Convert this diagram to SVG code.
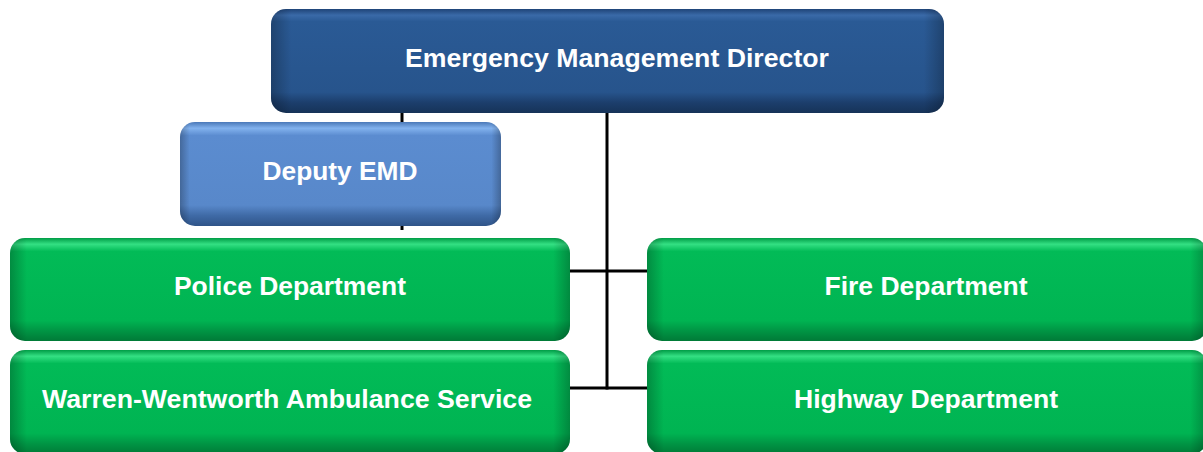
<svg xmlns="http://www.w3.org/2000/svg" width="1203" height="452" viewBox="0 0 1203 452">
<defs>
<linearGradient id="gDark" x1="0" y1="0" x2="0" y2="1">
<stop offset="0" stop-color="#1f4478"/>
<stop offset="0.06" stop-color="#3a6aa8"/>
<stop offset="0.12" stop-color="#2a5a95"/>
<stop offset="0.8" stop-color="#27548c"/>
<stop offset="0.9" stop-color="#1c3e6c"/>
<stop offset="1" stop-color="#163358"/>
</linearGradient>
<linearGradient id="gLight" x1="0" y1="0" x2="0" y2="1">
<stop offset="0" stop-color="#4a78b8"/>
<stop offset="0.06" stop-color="#82b2ee"/>
<stop offset="0.13" stop-color="#5b8cd0"/>
<stop offset="0.8" stop-color="#5888ca"/>
<stop offset="0.9" stop-color="#3f6aa6"/>
<stop offset="1" stop-color="#2f5488"/>
</linearGradient>
<linearGradient id="gGreen" x1="0" y1="0" x2="0" y2="1">
<stop offset="0" stop-color="#009c46"/>
<stop offset="0.06" stop-color="#34e083"/>
<stop offset="0.13" stop-color="#02bb57"/>
<stop offset="0.8" stop-color="#00b452"/>
<stop offset="0.9" stop-color="#009544"/>
<stop offset="1" stop-color="#007a37"/>
</linearGradient>
<linearGradient id="gSide" x1="0" y1="0" x2="1" y2="0">
<stop offset="0" stop-color="#000" stop-opacity="0.25"/>
<stop offset="0.03" stop-color="#000" stop-opacity="0"/>
<stop offset="0.97" stop-color="#000" stop-opacity="0"/>
<stop offset="1" stop-color="#000" stop-opacity="0.25"/>
</linearGradient>
</defs>
<style>
.lbl{font-family:"Liberation Sans",Arial,sans-serif;font-weight:bold;font-size:25.5px;fill:#ffffff;text-anchor:middle}
.con{stroke:#000;stroke-width:3;fill:none}
.side{fill:url(#gSide)}
</style>
<g id="connectors">
<line class="con" x1="402" y1="110" x2="402" y2="230"/>
<line class="con" x1="607" y1="110" x2="607" y2="389.5"/>
<line class="con" x1="568" y1="271" x2="650" y2="271"/>
<line class="con" x1="568" y1="388" x2="650" y2="388"/>
</g>
<g id="emd">
<rect x="271" y="9" width="673" height="104" rx="15" fill="url(#gDark)"/>
<rect class="side" x="271" y="9" width="673" height="104" rx="15"/>
<text class="lbl" x="617" y="67" textLength="424" lengthAdjust="spacingAndGlyphs">Emergency Management Director</text>
</g>
<g id="deputy">
<rect x="180" y="122" width="321" height="104" rx="15" fill="url(#gLight)"/>
<rect class="side" x="180" y="122" width="321" height="104" rx="15"/>
<text class="lbl" x="340" y="180" textLength="155" lengthAdjust="spacingAndGlyphs">Deputy EMD</text>
</g>
<g id="police">
<rect x="10" y="238" width="560" height="103" rx="15" fill="url(#gGreen)"/>
<rect class="side" x="10" y="238" width="560" height="103" rx="15"/>
<text class="lbl" x="290" y="295" textLength="232" lengthAdjust="spacingAndGlyphs">Police Department</text>
</g>
<g id="fire">
<rect x="647" y="238" width="560" height="103" rx="15" fill="url(#gGreen)"/>
<rect class="side" x="647" y="238" width="560" height="103" rx="15"/>
<text class="lbl" x="926" y="295" textLength="203" lengthAdjust="spacingAndGlyphs">Fire Department</text>
</g>
<g id="ambulance">
<rect x="10" y="350" width="560" height="104" rx="15" fill="url(#gGreen)"/>
<rect class="side" x="10" y="350" width="560" height="104" rx="15"/>
<text class="lbl" x="287" y="408" textLength="490" lengthAdjust="spacingAndGlyphs">Warren-Wentworth Ambulance Service</text>
</g>
<g id="highway">
<rect x="647" y="350" width="560" height="104" rx="15" fill="url(#gGreen)"/>
<rect class="side" x="647" y="350" width="560" height="104" rx="15"/>
<text class="lbl" x="926" y="408" textLength="264" lengthAdjust="spacingAndGlyphs">Highway Department</text>
</g>
</svg>
